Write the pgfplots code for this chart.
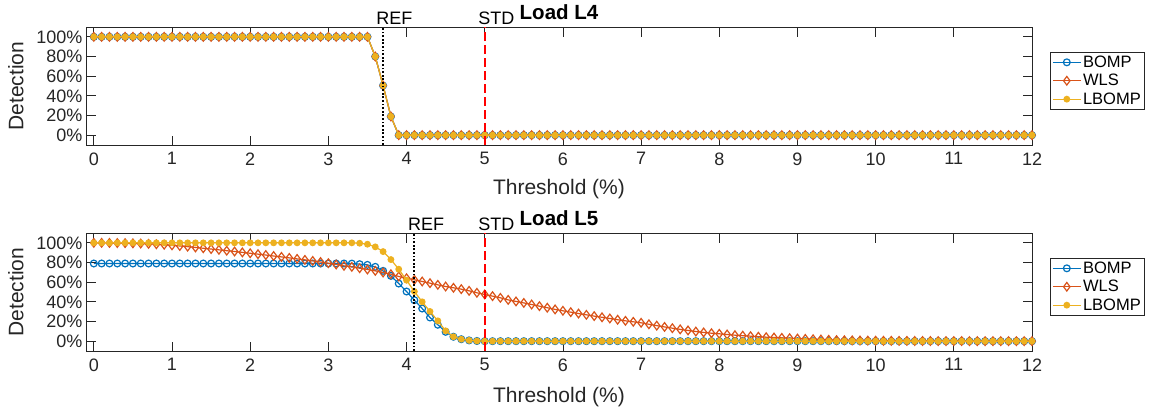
\documentclass[border=0pt]{standalone}
\usepackage{pgfplots}
\pgfplotsset{compat=1.18}
\usepackage{pgfplotstable}
\usepackage{fontspec}
\setmainfont{Liberation Sans}

\definecolor{bompc}{rgb}{0,0.447,0.741}
\definecolor{wlsc}{rgb}{0.85,0.325,0.098}
\definecolor{lbompc}{rgb}{0.929,0.694,0.125}
\definecolor{axgray}{rgb}{0.15,0.15,0.15}

\newcommand{\tickfont}{\fontsize{18}{20}\selectfont}
\newcommand{\labfont}{\fontsize{21}{23}\selectfont}
\newcommand{\titfont}{\fontsize{20.5}{22}\selectfont\bfseries}
\newcommand{\legfont}{\fontsize{16.5}{18}\selectfont}
\newcommand{\annfont}{\fontsize{18}{20}\selectfont}

% Load L4: the three methods give the same curve
\pgfplotstableread{
x y
0.0 1
0.1 1
0.2 1
0.3 1
0.4 1
0.5 1
0.6 1
0.7 1
0.8 1
0.9 1
1.0 1
1.1 1
1.2 1
1.3 1
1.4 1
1.5 1
1.6 1
1.7 1
1.8 1
1.9 1
2.0 1
2.1 1
2.2 1
2.3 1
2.4 1
2.5 1
2.6 1
2.7 1
2.8 1
2.9 1
3.0 1
3.1 1
3.2 1
3.3 1
3.4 1
3.5 1
3.6 0.80
3.7 0.505
3.8 0.19
3.9 0
4.0 0
4.1 0
4.2 0
4.3 0
4.4 0
4.5 0
4.6 0
4.7 0
4.8 0
4.9 0
5.0 0
5.1 0
5.2 0
5.3 0
5.4 0
5.5 0
5.6 0
5.7 0
5.8 0
5.9 0
6.0 0
6.1 0
6.2 0
6.3 0
6.4 0
6.5 0
6.6 0
6.7 0
6.8 0
6.9 0
7.0 0
7.1 0
7.2 0
7.3 0
7.4 0
7.5 0
7.6 0
7.7 0
7.8 0
7.9 0
8.0 0
8.1 0
8.2 0
8.3 0
8.4 0
8.5 0
8.6 0
8.7 0
8.8 0
8.9 0
9.0 0
9.1 0
9.2 0
9.3 0
9.4 0
9.5 0
9.6 0
9.7 0
9.8 0
9.9 0
10.0 0
10.1 0
10.2 0
10.3 0
10.4 0
10.5 0
10.6 0
10.7 0
10.8 0
10.9 0
11.0 0
11.1 0
11.2 0
11.3 0
11.4 0
11.5 0
11.6 0
11.7 0
11.8 0
11.9 0
12.0 0
}\loadfour

% Load L5
\pgfplotstableread{
x bomp wls lbomp
0.0 0.79 1.000 1
0.1 0.79 1.000 1
0.2 0.79 0.999 1
0.3 0.79 0.998 1
0.4 0.79 0.997 1
0.5 0.79 0.995 1
0.6 0.79 0.993 1
0.7 0.79 0.990 1
0.8 0.79 0.986 1
0.9 0.79 0.981 1
1.0 0.79 0.975 1
1.1 0.79 0.968 1
1.2 0.79 0.961 1
1.3 0.79 0.953 1
1.4 0.79 0.945 1
1.5 0.79 0.937 1
1.6 0.79 0.929 1
1.7 0.79 0.920 1
1.8 0.79 0.912 1
1.9 0.79 0.903 1
2.0 0.79 0.894 1
2.1 0.79 0.885 1
2.2 0.79 0.876 1
2.3 0.79 0.866 1
2.4 0.79 0.857 1
2.5 0.79 0.847 1
2.6 0.79 0.837 1
2.7 0.79 0.827 1
2.8 0.79 0.816 1
2.9 0.79 0.805 1
3.0 0.79 0.793 1
3.1 0.79 0.780 1
3.2 0.79 0.766 1
3.3 0.789 0.756 1
3.4 0.783 0.742 0.996
3.5 0.776 0.729 0.986
3.6 0.756 0.715 0.959
3.7 0.715 0.698 0.911
3.8 0.664 0.681 0.830
3.9 0.586 0.658 0.732
4.0 0.505 0.640 0.620
4.1 0.417 0.624 0.505
4.2 0.332 0.607 0.400
4.3 0.241 0.590 0.302
4.4 0.167 0.573 0.207
4.5 0.095 0.556 0.105
4.6 0.045 0.543 0.045
4.7 0.020 0.529 0.020
4.8 0.008 0.512 0.008
4.9 0.002 0.492 0.002
5.0 0 0.475 0
5.1 0 0.458 0
5.2 0 0.441 0
5.3 0 0.420 0
5.4 0 0.404 0
5.5 0 0.389 0
5.6 0 0.373 0
5.7 0 0.356 0
5.8 0 0.340 0
5.9 0 0.323 0
6.0 0 0.309 0
6.1 0 0.295 0
6.2 0 0.281 0
6.3 0 0.268 0
6.4 0 0.255 0
6.5 0 0.243 0
6.6 0 0.231 0
6.7 0 0.218 0
6.8 0 0.207 0
6.9 0 0.197 0
7.0 0 0.187 0
7.1 0 0.172 0
7.2 0 0.158 0
7.3 0 0.145 0
7.4 0 0.132 0
7.5 0 0.120 0
7.6 0 0.109 0
7.7 0 0.098 0
7.8 0 0.089 0
7.9 0 0.081 0
8.0 0 0.075 0
8.1 0 0.068 0
8.2 0 0.061 0
8.3 0 0.056 0
8.4 0 0.051 0
8.5 0 0.046 0
8.6 0 0.041 0
8.7 0 0.037 0
8.8 0 0.034 0
8.9 0 0.030 0
9.0 0 0.027 0
9.1 0 0.023 0
9.2 0 0.020 0
9.3 0 0.017 0
9.4 0 0.014 0
9.5 0 0.011 0
9.6 0 0.009 0
9.7 0 0.008 0
9.8 0 0.007 0
9.9 0 0.006 0
10.0 0 0.005 0
10.1 0 0.004 0
10.2 0 0.004 0
10.3 0 0.003 0
10.4 0 0.003 0
10.5 0 0.002 0
10.6 0 0.002 0
10.7 0 0.002 0
10.8 0 0.001 0
10.9 0 0.001 0
11.0 0 0.001 0
11.1 0 0.001 0
11.2 0 0 0
11.3 0 0 0
11.4 0 0 0
11.5 0 0 0
11.6 0 0 0
11.7 0 0 0
11.8 0 0 0
11.9 0 0 0
12.0 0 0 0
}\loadfive

\pgfplotsset{
  panel/.style={
    scale only axis,
    width=946pt, height=118pt,
    xmin=-0.1, xmax=12, ymin=-0.1, ymax=1.1,
    xtick={0,1,2,3,4,5,6,7,8,9,10,11,12},
    ytick={0,0.2,0.4,0.6,0.8,1},
    yticklabels={0\%,20\%,40\%,60\%,80\%,100\%},
    /pgf/number format/assume math mode=true,
    tick align=inside,
    major tick length=9.5pt,
    axis line style={draw=axgray, line width=0.8pt},
    tick style={draw=axgray, line width=0.8pt},
    ticklabel style={font=\tickfont, text=axgray},
    xticklabel style={yshift=-4pt},
    xlabel={Threshold (\%)}, ylabel={Detection},
    every axis y label/.style={at={(axis description cs:-0.074,0.5)}, anchor=center, rotate=90, font=\labfont, text=axgray},
    every axis title/.style={at={(axis description cs:0.5,1)}, anchor=base, yshift=8pt, font=\titfont, text=black},
    clip mode=individual,
    legend cell align=left,
    legend style={at={(1,1)}, anchor=north west, xshift=18pt, yshift=-25pt,
      font=\legfont, draw=axgray, fill=white,
      inner xsep=2pt, inner ysep=2pt, row sep=2.2pt,
      nodes={inner sep=1.6pt, text=black}},
    legend image code/.code={
      \draw[mark repeat=2, mark phase=2] plot coordinates {(0pt,0pt) (14pt,0pt) (28pt,0pt)};},
  },
  bompsty/.style={color=bompc, line width=1.2pt, mark=o, mark size=3.4pt, mark options={line width=1.2pt}},
  wlssty/.style={color=wlsc, line width=1.2pt, mark=diamond, mark size=4.3pt, mark options={line width=1.2pt}},
  lbompsty/.style={color=lbompc, line width=1.2pt, mark=*, mark size=2.8pt, mark options={fill=lbompc, draw=lbompc}},
}

\begin{document}
\begin{tikzpicture}
\useasboundingbox (0pt,0pt) rectangle (1151pt,-413pt);

\begin{axis}[panel, at={(86pt,-145pt)}, anchor=south west, title={Load L4},
  every axis x label/.style={at={(axis description cs:0.5,-0.37)}, anchor=center, font=\labfont, text=axgray}]
\addplot[bompsty] table[x=x, y=y] {\loadfour};
\addlegendentry{BOMP}
\addplot[wlssty] table[x=x, y=y] {\loadfour};
\addlegendentry{WLS}
\addplot[lbompsty] table[x=x, y=y] {\loadfour};
\addlegendentry{LBOMP}
\draw[black, line width=1.8pt, dash pattern=on 1.8pt off 1.8pt] (axis cs:3.7,-0.1) -- (axis cs:3.7,1.1);
\draw[red, line width=1.8pt, dash pattern=on 9pt off 4pt] (axis cs:5,-0.1) -- (axis cs:5,1.1);
\node[anchor=base west, font=\annfont, inner sep=0pt, xshift=-7pt, yshift=2.5pt] at (axis cs:3.7,1.1) {REF};
\node[anchor=base west, font=\annfont, inner sep=0pt, xshift=-6.5pt, yshift=2.5pt] at (axis cs:5,1.1) {STD};
\end{axis}

\begin{axis}[panel, at={(86pt,-351pt)}, anchor=south west, title={Load L5},
  every axis x label/.style={at={(axis description cs:0.5,-0.39)}, anchor=center, font=\labfont, text=axgray}]
\addplot[bompsty] table[x=x, y=bomp] {\loadfive};
\addlegendentry{BOMP}
\addplot[wlssty] table[x=x, y=wls] {\loadfive};
\addlegendentry{WLS}
\addplot[lbompsty] table[x=x, y=lbomp] {\loadfive};
\addlegendentry{LBOMP}
\draw[black, line width=1.8pt, dash pattern=on 1.8pt off 1.8pt] (axis cs:4.1,-0.1) -- (axis cs:4.1,1.1);
\draw[red, line width=1.8pt, dash pattern=on 9pt off 4pt] (axis cs:5,-0.1) -- (axis cs:5,1.1);
\node[anchor=base west, font=\annfont, inner sep=0pt, xshift=-6.5pt, yshift=2.5pt] at (axis cs:4.1,1.1) {REF};
\node[anchor=base west, font=\annfont, inner sep=0pt, xshift=-6.5pt, yshift=2.5pt] at (axis cs:5,1.1) {STD};
\end{axis}
\end{tikzpicture}
\end{document}
